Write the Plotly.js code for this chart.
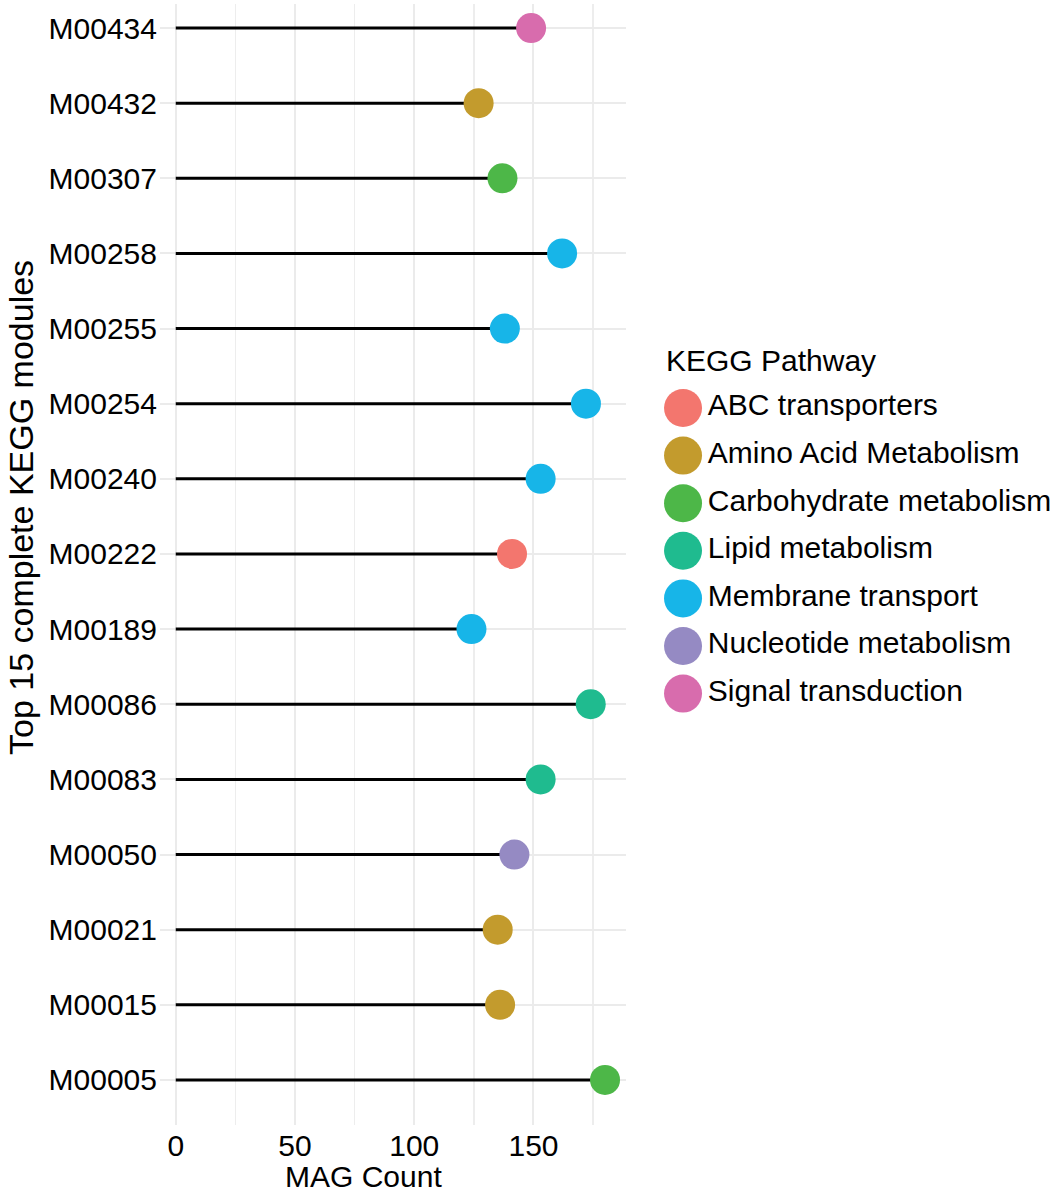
<!DOCTYPE html>
<html>
<head>
<meta charset="utf-8">
<script src="https://cdn.plot.ly/plotly-3.0.1.min.js"></script>
<style>html,body{margin:0;padding:0;background:#fff;}#chart{width:1063px;height:1194px;}</style>
</head>
<body>
<div id="chart"></div>
<script>
// Modules listed bottom to top
var modules = ["M00005","M00015","M00021","M00050","M00083","M00086","M00189","M00222","M00240","M00254","M00255","M00258","M00307","M00432","M00434"];
var counts  = [180, 136, 135, 142, 153, 174, 124, 141, 153, 172, 138, 162, 137, 127, 149];
var pathwayOf = ["Carbohydrate metabolism","Amino Acid Metabolism","Amino Acid Metabolism","Nucleotide metabolism","Lipid metabolism","Lipid metabolism","Membrane transport","ABC transporters","Membrane transport","Membrane transport","Membrane transport","Membrane transport","Carbohydrate metabolism","Amino Acid Metabolism","Signal transduction"];
var pathways = ["ABC transporters","Amino Acid Metabolism","Carbohydrate metabolism","Lipid metabolism","Membrane transport","Nucleotide metabolism","Signal transduction"];
var pathwayColors = ["#F3766E","#C39B2D","#4DB748","#1FBB8F","#17B5E8","#958AC3","#D86CAD"];
var xTicks = [0, 50, 100, 150];

var FONT = "Liberation Sans, Arial, Helvetica, sans-serif";
var traces = [];

// stems
var lx = [], ly = [];
modules.forEach(function(m, i){ lx.push(0, counts[i], null); ly.push(m, m, null); });
traces.push({type:"scatter", mode:"lines", x:lx, y:ly, line:{color:"#000", width:3}, showlegend:false, hoverinfo:"skip", xaxis:"x", yaxis:"y"});

// dots by pathway
pathways.forEach(function(p, k){
  var xs = [], ys = [];
  modules.forEach(function(m, i){ if (pathwayOf[i] === p) { xs.push(counts[i]); ys.push(m); } });
  traces.push({type:"scatter", mode:"markers", name:p, x:xs, y:ys,
    marker:{color:pathwayColors[k], size:30, line:{width:0}}, showlegend:false, xaxis:"x", yaxis:"y"});
});

// custom legend
traces.push({type:"scatter", mode:"markers+text", x:pathways.map(function(){return 43;}), y:pathways.map(function(p,k){return k;}),
  text:pathways, textposition:"middle right", textfont:{family:FONT, size:30, color:"#000"},
  marker:{color:pathwayColors, size:38}, showlegend:false, hoverinfo:"skip", xaxis:"x2", yaxis:"y2", cliponaxis:false});

var layout = {
  width:1063, height:1194,
  margin:{l:160, r:0, t:4, b:69},
  paper_bgcolor:"#fff", plot_bgcolor:"#fff",
  font:{family:FONT, size:30, color:"#000"},
  showlegend:false,
  xaxis:{domain:[0,0.5166], range:[-6.6,189], tickvals:xTicks, ticktext:xTicks.map(String),
    showgrid:true, gridcolor:"#EBEBEB", gridwidth:2, zeroline:false, showline:false, ticks:"",
    minor:{dtick:25, showgrid:true, gridcolor:"#EDEDED", gridwidth:1.6},
    tickfont:{family:FONT, size:30, color:"#000"}},
  yaxis:{type:"category", categoryorder:"array", categoryarray:modules, range:[-0.6,14.32],
    showgrid:true, gridcolor:"#EBEBEB", gridwidth:2, zeroline:false, showline:false, ticks:"",
    tickfont:{family:FONT, size:30, color:"#000"}, ticklabelstandoff:2},
  xaxis2:{domain:[0.5316,1], range:[0,423], visible:false, fixedrange:true},
  yaxis2:{anchor:"x2", range:[15.063,-8.487], visible:false, fixedrange:true},
  annotations:[
    {xref:"x2", yref:"y2", x:24, y:-1, text:"KEGG Pathway", showarrow:false, xanchor:"left", yanchor:"middle",
     font:{family:FONT, size:30, color:"#000"}},
    {xref:"paper", yref:"paper", x:-0.1539, y:0.5504, text:"Top 15 complete KEGG modules", showarrow:false,
     textangle:-90, xanchor:"center", yanchor:"middle", borderpad:0, font:{family:FONT, size:34, color:"#000"}},
    {xref:"x", yref:"paper", x:(363-175.7)/2.385, y:-0.0613, text:"MAG Count", showarrow:false,
     xanchor:"center", yanchor:"bottom", borderpad:0, font:{family:FONT, size:30, color:"#000"}}
  ]
};

Plotly.newPlot("chart", traces, layout, {displayModeBar:false, staticPlot:true});
</script>
</body>
</html>
